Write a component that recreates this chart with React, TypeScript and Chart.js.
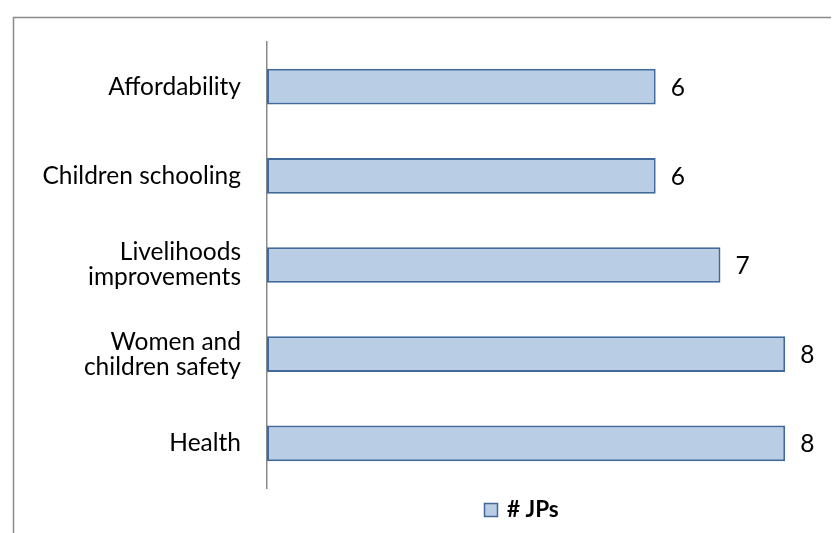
import React, { useEffect, useRef } from "react";
import { Chart, registerables } from "chart.js";

Chart.register(...registerables);

// Reasons cited, top to bottom
const categories: (string | string[])[] = [
  "Affordability",
  "Children schooling",
  ["Livelihoods", "improvements"],
  ["Women and", "children safety"],
  "Health",
];
// Number of JPs citing each reason
const jpCounts = [6, 6, 7, 8, 8];
const seriesLabel = "# JPs";

const FONT = "Lato, 'Open Sans', sans-serif";
const FILL = "#B9CDE5";
const EDGE = "#41699B";
const GRAY = "#8A8A8A";

// Outer frame of the chart area (left and top edges are visible)
const framePlugin = {
  id: "frame",
  beforeDraw(chart: Chart) {
    const { ctx, width, height } = chart;
    ctx.save();
    ctx.strokeStyle = GRAY;
    ctx.lineWidth = 1.5;
    ctx.strokeRect(5.5, 9.5, width, height);
    ctx.restore();
  },
};

// Value labels at the end of each bar
const valueLabelPlugin = {
  id: "valueLabels",
  afterDatasetsDraw(chart: Chart) {
    const { ctx } = chart;
    const meta = chart.getDatasetMeta(0);
    const data = chart.data.datasets[0].data as number[];
    ctx.save();
    ctx.fillStyle = "#000";
    ctx.font = `24.5px ${FONT}`;
    ctx.textAlign = "left";
    ctx.textBaseline = "middle";
    meta.data.forEach((bar: any, i: number) => {
      ctx.fillText(String(data[i]), bar.x + 15, bar.y + 1);
    });
    ctx.restore();
  },
};

// Single-entry legend below the plot
const legendPlugin = {
  id: "customLegend",
  afterDraw(chart: Chart) {
    const { ctx } = chart;
    const ds = chart.data.datasets[0] as any;
    ctx.save();
    ctx.fillStyle = ds.backgroundColor;
    ctx.strokeStyle = ds.borderColor;
    ctx.lineWidth = 1.5;
    ctx.fillRect(476.5, 495.5, 13, 13);
    ctx.strokeRect(476.5, 495.5, 13, 13);
    ctx.fillStyle = "#000";
    ctx.font = `bold 22.5px ${FONT}`;
    ctx.textAlign = "left";
    ctx.textBaseline = "middle";
    ctx.fillText(ds.label, 499, 502);
    ctx.restore();
  },
};

export default function App() {
  const canvasRef = useRef<HTMLCanvasElement | null>(null);

  useEffect(() => {
    const canvas = canvasRef.current;
    if (!canvas) return;
    const chart = new Chart(canvas, {
      type: "bar",
      data: {
        labels: categories,
        datasets: [
          {
            label: seriesLabel,
            data: jpCounts,
            backgroundColor: FILL,
            borderColor: EDGE,
            borderWidth: 2,
            borderSkipped: false,
            categoryPercentage: 1,
            barPercentage: 0.4,
          },
        ],
      },
      options: {
        indexAxis: "y",
        responsive: false,
        animation: false,
        devicePixelRatio: 1,
        layout: { padding: { left: 0, top: 34, right: 198, bottom: 80 } },
        plugins: {
          legend: { display: false },
          tooltip: { enabled: false },
        },
        scales: {
          x: {
            display: false,
            min: 0,
            max: 9,
          },
          y: {
            afterFit(scale: any) {
              scale.width = 259;
              scale.paddingTop = 0;
              scale.paddingBottom = 0;
            },
            grid: { display: false, drawTicks: false },
            border: { display: true, color: GRAY, width: 1.5 },
            ticks: {
              padding: 26,
              color: "#000",
              font: { family: FONT, size: 24.5, lineHeight: 1.02 },
            },
          },
        },
      },
      plugins: [framePlugin, valueLabelPlugin, legendPlugin],
    });
    return () => chart.destroy();
  }, []);

  return (
    <div style={{ width: 831, height: 525, overflow: "hidden", background: "#fff" }}>
      <canvas ref={canvasRef} width={1040} height={560} style={{ width: 1040, height: 560, display: "block" }} />
    </div>
  );
}
